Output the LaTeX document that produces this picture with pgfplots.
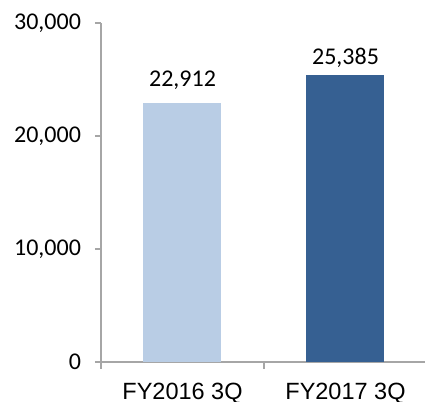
\documentclass[border=0pt]{standalone}
\usepackage{fontspec}
\setmainfont{Carlito}
\newfontfamily\arialfont{Liberation Sans}
\usepackage{pgfplots}
\pgfplotsset{compat=1.18}
\definecolor{lightbar}{HTML}{B9CDE5}
\definecolor{darkbar}{HTML}{366092}
\definecolor{axisgray}{HTML}{A6A6A6}

\begin{document}
\begin{tikzpicture}
\begin{axis}[
  at={(0,0)}, anchor=south west,
  scale only axis,
  width=163pt, height=169.5pt,
  ybar, bar width=39pt, bar shift=0pt,
  xmin=-0.5, xmax=1.5,
  ymin=0, ymax=30000,
  axis lines*=left,
  axis line style={draw=axisgray, line width=0.75pt},
  clip=false,
  tick align=outside,
  ytick={0,10000,20000,30000},
  major tick length=3pt,
  y tick style={draw=axisgray, line width=0.75pt},
  x tick style={draw=none},
  xtick={0,1},
  xticklabels={FY2016 3Q, FY2017 3Q},
  extra x ticks={-0.5,0.5},
  extra x tick labels={},
  extra x tick style={x tick style={draw=axisgray, line width=0.75pt}, major tick length=3.5pt},
  /pgf/number format/assume math mode=true,
  /pgf/number format/1000 sep={,},
  scaled y ticks=false,
  yticklabel style={font=\fontsize{12}{14}\selectfont, xshift=-3.5pt},
  xticklabel style={font=\arialfont\fontsize{11.75}{14}\selectfont, inner sep=0pt, yshift=-7.5pt},
  nodes near coords,
  nodes near coords style={font=\fontsize{12}{14}\selectfont, text=black},
]
\addplot[fill=lightbar, draw=none, every node near coord/.append style={yshift=3pt}] coordinates {(0,22912)};
\addplot[fill=darkbar, draw=none, every node near coord/.append style={yshift=0.5pt}] coordinates {(1,25385)};
\end{axis}
\pgfresetboundingbox
\path[use as bounding box] (-50.5pt,-20pt) rectangle (162pt,181pt);
\end{tikzpicture}
\end{document}
